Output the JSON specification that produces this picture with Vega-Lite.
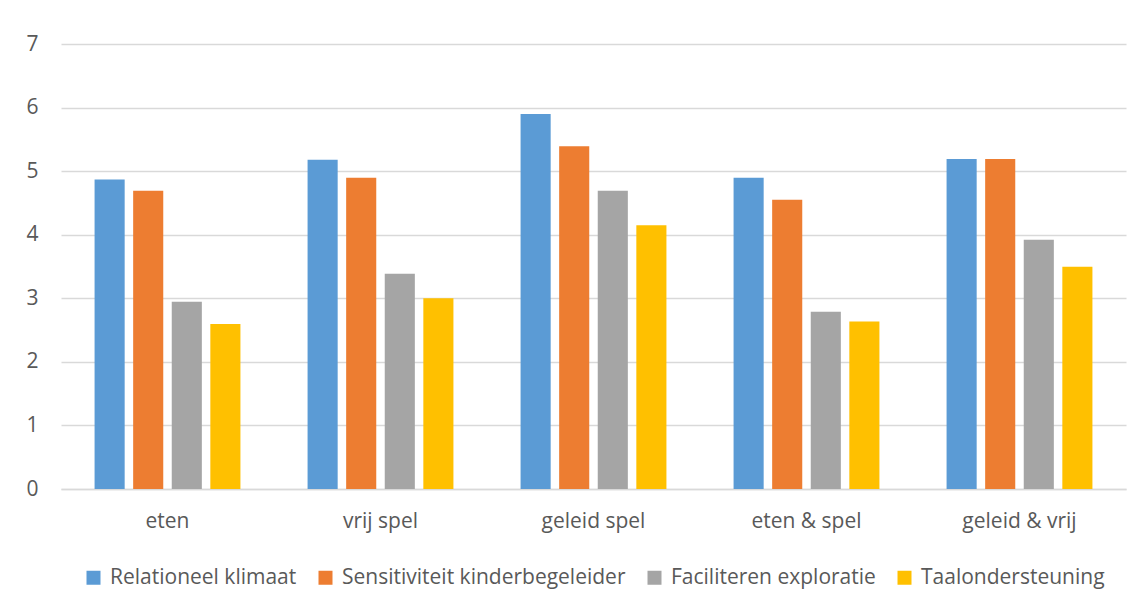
{
  "$schema": "https://vega.github.io/schema/vega-lite/v6.json",
  "autosize": {"type": "none"},
  "width": 1065,
  "height": 445,
  "padding": {"left": 61, "top": 44, "right": 15, "bottom": 117},
  "background": "white",
  "data": {
    "values": [
      {"cat": "eten", "series": "Relationeel klimaat", "value": 4.87},
      {"cat": "eten", "series": "Sensitiviteit kinderbegeleider", "value": 4.69},
      {"cat": "eten", "series": "Faciliteren exploratie", "value": 2.945},
      {"cat": "eten", "series": "Taalondersteuning", "value": 2.595},
      {"cat": "vrij spel", "series": "Relationeel klimaat", "value": 5.18},
      {"cat": "vrij spel", "series": "Sensitiviteit kinderbegeleider", "value": 4.895},
      {"cat": "vrij spel", "series": "Faciliteren exploratie", "value": 3.385},
      {"cat": "vrij spel", "series": "Taalondersteuning", "value": 3.0},
      {"cat": "geleid spel", "series": "Relationeel klimaat", "value": 5.9},
      {"cat": "geleid spel", "series": "Sensitiviteit kinderbegeleider", "value": 5.39},
      {"cat": "geleid spel", "series": "Faciliteren exploratie", "value": 4.69},
      {"cat": "geleid spel", "series": "Taalondersteuning", "value": 4.15},
      {"cat": "eten & spel", "series": "Relationeel klimaat", "value": 4.895},
      {"cat": "eten & spel", "series": "Sensitiviteit kinderbegeleider", "value": 4.55},
      {"cat": "eten & spel", "series": "Faciliteren exploratie", "value": 2.79},
      {"cat": "eten & spel", "series": "Taalondersteuning", "value": 2.635},
      {"cat": "geleid & vrij", "series": "Relationeel klimaat", "value": 5.19},
      {"cat": "geleid & vrij", "series": "Sensitiviteit kinderbegeleider", "value": 5.19},
      {"cat": "geleid & vrij", "series": "Faciliteren exploratie", "value": 3.92},
      {"cat": "geleid & vrij", "series": "Taalondersteuning", "value": 3.495}
    ]
  },
  "mark": {"type": "bar"},
  "encoding": {
    "x": {
      "field": "cat",
      "type": "nominal",
      "sort": ["eten", "vrij spel", "geleid spel", "eten & spel", "geleid & vrij"],
      "scale": {"paddingInner": 0, "paddingOuter": 0},
      "axis": {
        "title": null,
        "labelAngle": 0,
        "ticks": false,
        "domain": true,
        "domainColor": "#d9d9d9",
        "domainWidth": 1.3,
        "labelFont": "Open Sans",
        "labelFontSize": 21,
        "labelColor": "#595959",
        "labelPadding": 21
      }
    },
    "xOffset": {
      "field": "series",
      "type": "nominal",
      "sort": ["Relationeel klimaat", "Sensitiviteit kinderbegeleider", "Faciliteren exploratie", "Taalondersteuning"],
      "scale": {"paddingInner": 0.22, "paddingOuter": 0.87}
    },
    "y": {
      "field": "value",
      "type": "quantitative",
      "scale": {"domain": [0, 7], "nice": false},
      "axis": {
        "title": null,
        "values": [0, 1, 2, 3, 4, 5, 6, 7],
        "ticks": false,
        "domain": false,
        "grid": true,
        "gridColor": "#d9d9d9",
        "gridWidth": 1.3,
        "labelFont": "Open Sans",
        "labelFontSize": 21,
        "labelColor": "#595959",
        "labelPadding": 23
      }
    },
    "color": {
      "field": "series",
      "type": "nominal",
      "sort": ["Relationeel klimaat", "Sensitiviteit kinderbegeleider", "Faciliteren exploratie", "Taalondersteuning"],
      "scale": {
        "domain": ["Relationeel klimaat", "Sensitiviteit kinderbegeleider", "Faciliteren exploratie", "Taalondersteuning"],
        "range": ["#5b9bd5", "#ed7d31", "#a5a5a5", "#ffc000"]
      },
      "legend": {
        "title": null,
        "orient": "bottom",
        "direction": "horizontal",
        "symbolType": "square",
        "symbolSize": 196,
        "symbolStrokeWidth": 0,
        "labelFont": "Open Sans",
        "labelFontSize": 21,
        "labelColor": "#595959",
        "labelOffset": 6,
        "columnPadding": 18,
        "offset": 36,
        "labelLimit": 500
      }
    }
  },
  "config": {
    "view": {"stroke": null},
    "legend": {"layout": {"bottom": {"anchor": "middle"}}}
  }
}
